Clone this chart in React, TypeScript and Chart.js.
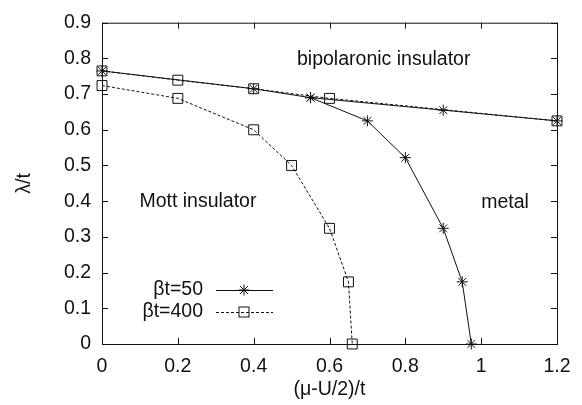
import React, { useEffect, useRef } from "react";
import { Chart, registerables } from "chart.js";

Chart.register(...registerables);

// ---- data ----
const b50UpperX = [0, 0.4, 0.55, 0.9, 1.2];
const b50UpperY = [0.765, 0.715, 0.69, 0.655, 0.625];
const b50LowerX = [0.55, 0.7, 0.8, 0.9, 0.95, 0.974];
const b50LowerY = [0.69, 0.625, 0.522, 0.324, 0.174, 0];
const b400UpperX = [0, 0.2, 0.4, 0.6, 1.2];
const b400UpperY = [0.765, 0.739, 0.715, 0.688, 0.625];
const b400LowerX = [0, 0.2, 0.4, 0.5, 0.6, 0.65, 0.66];
const b400LowerY = [0.724, 0.688, 0.6, 0.5, 0.324, 0.174, 0];

const xTickValues = [0, 0.2, 0.4, 0.6, 0.8, 1, 1.2];
const xTickLabels = ["0", "0.2", "0.4", "0.6", "0.8", "1", "1.2"];
const yTickValues = [0, 0.1, 0.2, 0.3, 0.4, 0.5, 0.6, 0.7, 0.8, 0.9];
const yTickLabels = ["0", "0.1", "0.2", "0.3", "0.4", "0.5", "0.6", "0.7", "0.8", "0.9"];

const legendLabels = ["βt=50", "βt=400"];
const regionTexts = ["bipolaronic insulator", "Mott insulator", "metal"];
const regionX = [0.743, 0.253, 1.063];
const regionY = [0.797, 0.4, 0.397];

const FONT = '"Liberation Sans", Arial, sans-serif';
const FS = 19.5;
const INK = "#111";

const zip = (xs: number[], ys: number[]) => xs.map((x, i) => ({ x, y: ys[i] }));

function drawStar(ctx: CanvasRenderingContext2D, x: number, y: number, r: number) {
  ctx.beginPath();
  ctx.moveTo(x - r, y);
  ctx.lineTo(x + r, y);
  ctx.moveTo(x, y - r);
  ctx.lineTo(x, y + r);
  const d = r * Math.SQRT1_2;
  ctx.moveTo(x - d, y - d);
  ctx.lineTo(x + d, y + d);
  ctx.moveTo(x - d, y + d);
  ctx.lineTo(x + d, y - d);
  ctx.stroke();
}

const framePlugin = {
  id: "frame",
  afterDraw(chart: any) {
    const { ctx, chartArea: a, scales } = chart;
    const xs = scales.x;
    const ys = scales.y;
    ctx.save();
    ctx.strokeStyle = INK;
    ctx.lineWidth = 1;
    ctx.setLineDash([]);
    ctx.strokeRect(a.left + 0.5, a.top + 0.5, a.right - a.left, a.bottom - a.top);
    const tl = 6;
    ctx.beginPath();
    xs.ticks.forEach((t: any) => {
      const px = Math.round(xs.getPixelForValue(t.value)) + 0.5;
      ctx.moveTo(px, a.bottom);
      ctx.lineTo(px, a.bottom - tl);
      ctx.moveTo(px, a.top);
      ctx.lineTo(px, a.top + tl);
    });
    ys.ticks.forEach((t: any) => {
      const py = Math.round(ys.getPixelForValue(t.value)) + 0.5;
      ctx.moveTo(a.left, py);
      ctx.lineTo(a.left + tl, py);
      ctx.moveTo(a.right, py);
      ctx.lineTo(a.right - tl, py);
    });
    ctx.stroke();

    // region labels
    ctx.fillStyle = INK;
    ctx.font = `${FS}px ${FONT}`;
    ctx.textAlign = "center";
    ctx.textBaseline = "middle";
    regionTexts.forEach((txt, i) => {
      ctx.fillText(txt, xs.getPixelForValue(regionX[i]), ys.getPixelForValue(regionY[i]));
    });

    // legend
    const textRight = a.left + 101;
    const lineL = a.left + 114;
    const lineR = a.left + 171;
    const mk = a.left + 142;
    const rows = [a.bottom - 54, a.bottom - 32];
    ctx.textAlign = "right";
    legendLabels.forEach((lab, i) => {
      const y = rows[i];
      ctx.fillText(lab, textRight, y);
      ctx.beginPath();
      ctx.setLineDash(i === 0 ? [] : [3, 2]);
      ctx.moveTo(lineL, y + 0.5);
      ctx.lineTo(lineR, y + 0.5);
      ctx.stroke();
      ctx.setLineDash([]);
      if (i === 0) {
        drawStar(ctx, mk, y, 5.5);
      } else {
        ctx.strokeRect(mk - 5, y - 5, 10, 10);
      }
    });
    ctx.restore();
  },
};

export default function App() {
  const ref = useRef<HTMLCanvasElement>(null);
  useEffect(() => {
    if (!ref.current) return;
    const common = {
      showLine: true,
      borderColor: INK,
      borderWidth: 1,
      backgroundColor: "transparent",
      pointBorderColor: INK,
      pointBackgroundColor: "transparent",
      pointBorderWidth: 1,
      clip: false as any,
    };
    const chart = new Chart(ref.current, {
      type: "scatter",
      data: {
        datasets: [
          { ...common, label: legendLabels[0], data: zip(b50UpperX, b50UpperY), pointStyle: "star", pointRadius: 5.5 },
          { ...common, label: legendLabels[0], data: zip(b50LowerX, b50LowerY), pointStyle: "star", pointRadius: 5.5 },
          { ...common, label: legendLabels[1], data: zip(b400UpperX, b400UpperY), pointStyle: "rect", pointRadius: 7, borderDash: [3, 2] },
          { ...common, label: legendLabels[1], data: zip(b400LowerX, b400LowerY), pointStyle: "rect", pointRadius: 7, borderDash: [3, 2] },
        ] as any,
      },
      options: {
        responsive: false,
        animation: false,
        layout: { padding: { top: 15, right: 25, left: 0, bottom: 0 } },
        plugins: { legend: { display: false }, tooltip: { enabled: false } },
        scales: {
          x: {
            type: "linear",
            min: 0,
            max: 1.2,
            grid: { display: false, drawTicks: false },
            border: { display: false },
            afterBuildTicks: (s: any) => {
              s.ticks = xTickValues.map((v) => ({ value: v }));
            },
            afterFit: (s: any) => {
              s.height = 61;
            },
            ticks: {
              color: INK,
              padding: 11,
              font: { family: FONT, size: FS },
              maxRotation: 0,
              autoSkip: false,
              callback: (v: any) => {
                const i = xTickValues.findIndex((t) => Math.abs(t - v) < 1e-9);
                return i >= 0 ? xTickLabels[i] : "";
              },
            },
            title: {
              display: true,
              text: "(μ-U/2)/t",
              color: INK,
              font: { family: FONT, size: FS },
              padding: { top: 0, bottom: 4 },
            },
          },
          y: {
            type: "linear",
            min: 0,
            max: 0.9,
            grid: { display: false, drawTicks: false },
            border: { display: false },
            afterBuildTicks: (s: any) => {
              s.ticks = yTickValues.map((v) => ({ value: v }));
            },
            afterFit: (s: any) => {
              s.width = 102;
            },
            ticks: {
              color: INK,
              padding: 11,
              font: { family: FONT, size: FS },
              autoSkip: false,
              callback: (v: any) => {
                const i = yTickValues.findIndex((t) => Math.abs(t - v) < 1e-9);
                return i >= 0 ? yTickLabels[i] : "";
              },
            },
            title: {
              display: true,
              text: "λ/t",
              color: INK,
              font: { family: FONT, size: FS },
              padding: { top: 13, bottom: 0 },
            },
          },
        },
      },
      plugins: [framePlugin],
    });
    return () => chart.destroy();
  }, []);
  return (
    <div style={{ position: "absolute", left: 0, top: 0, width: 582, height: 405, background: "#fff" }}>
      <canvas ref={ref} width={582} height={405} style={{ display: "block" }} />
    </div>
  );
}
